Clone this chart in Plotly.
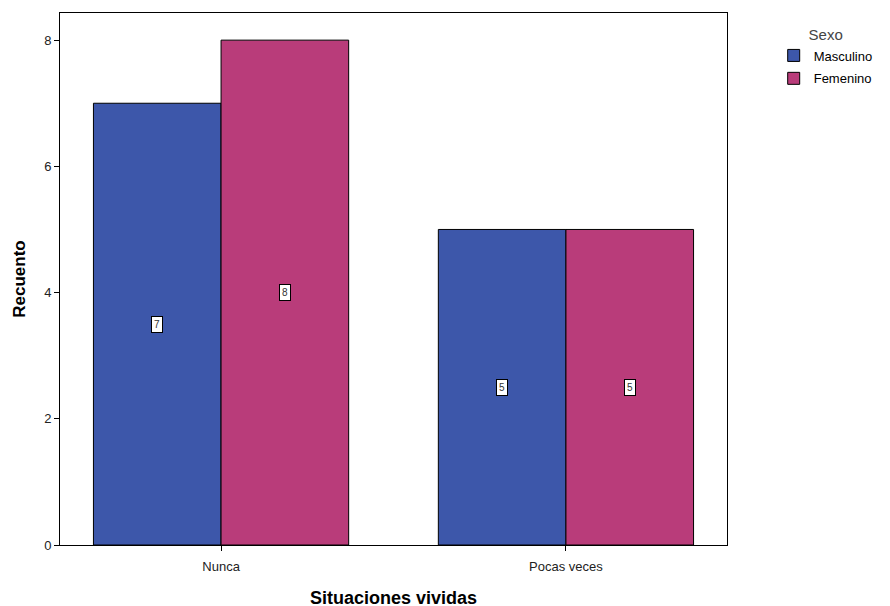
import plotly.graph_objects as go

categories = ["Nunca", "Pocas veces"]
masculino = [7, 5]
femenino = [8, 5]
series_names = ["Masculino", "Femenino"]
colors = ["#3D57AA", "#B93C7A"]
y_ticks = [0, 2, 4, 6, 8]

BARGAP = 0.26
fig = go.Figure()
for name, vals, col in zip(series_names, [masculino, femenino], colors):
    fig.add_trace(go.Bar(
        x=categories, y=vals, name=name, legendgroup=name,
        marker=dict(color=col, line=dict(color="black", width=1)),
    ))

off = (1 - BARGAP) / 4
for si, vals in enumerate([masculino, femenino]):
    for ci, v in enumerate(vals):
        fig.add_annotation(
            x=ci + (-off if si == 0 else off), y=v / 2, text=str(v),
            showarrow=False, bgcolor="white", bordercolor="black", borderwidth=1,
            borderpad=2, font=dict(family="Arial", size=10, color="#333"),
        )

fig.update_layout(
    width=890, height=606,
    barmode="group", bargap=BARGAP, bargroupgap=0,
    plot_bgcolor="white", paper_bgcolor="white",
    margin=dict(l=52, r=171, t=5, b=69, autoexpand=False),
    font=dict(family="Arial", color="#222"),
    legend=dict(
        title=dict(text="Sexo", side="top center", font=dict(size=15, color="#444")),
        x=1.07, y=0.985, xanchor="left", yanchor="top",
        font=dict(size=13, color="black"), itemwidth=30, tracegroupgap=3,
        traceorder="grouped",
    ),
    xaxis=dict(
        range=[-0.467, 1.467], showline=True, linecolor="black", linewidth=1, mirror=True,
        ticks="outside", ticklen=5, tickcolor="black", showgrid=False, automargin=False,
        tickfont=dict(size=13, color="#222"), ticklabelstandoff=4,
        title=dict(text="<b>Situaciones vividas</b>", font=dict(size=18, color="black"), standoff=18),
    ),
    yaxis=dict(
        range=[0, 8.43], tickvals=y_ticks, showline=True, linecolor="black", linewidth=1, mirror=True,
        ticks="outside", ticklen=5, tickcolor="black", showgrid=False, zeroline=False, automargin=False,
        tickfont=dict(size=13, color="#222"),
        title=dict(text="<b>Recuento</b>", font=dict(size=17, color="black"), standoff=14),
    ),
)
fig.write_html("out.html")
